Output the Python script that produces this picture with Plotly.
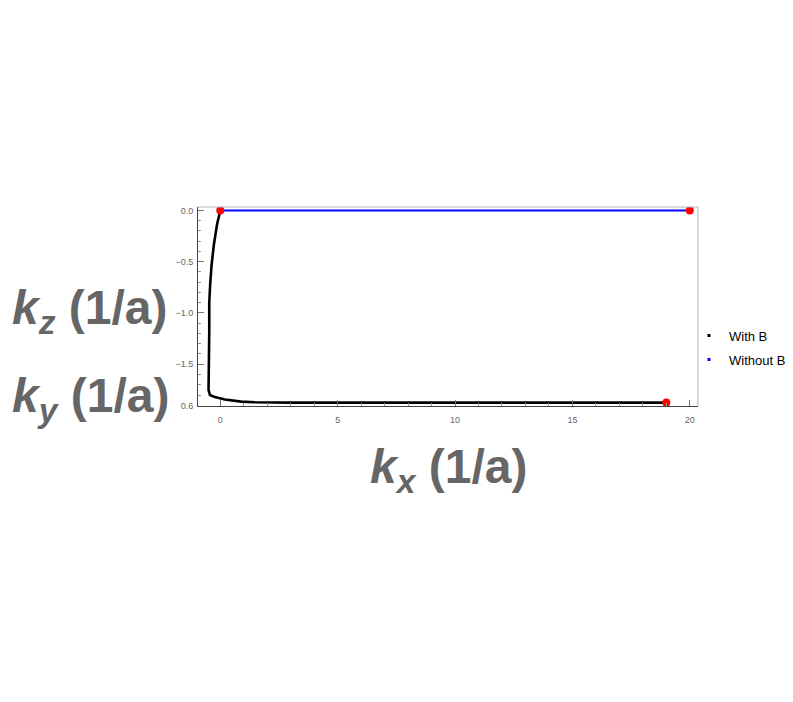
import plotly.graph_objects as go

# ---- data ----
with_b_kx = [0, -0.14, -0.27, -0.37, -0.43, -0.47, -0.47, -0.50, -0.50, -0.44, -0.23,
             0.2, 0.48, 0.77, 0.89, 1.48, 3, 6, 10, 15, 19]
with_b_kz = [0, -0.14, -0.33, -0.53, -0.72, -0.90, -1.19, -1.52, -1.75, -1.80, -1.82,
             -1.844, -1.855, -1.86, -1.864, -1.87, -1.874, -1.874, -1.874, -1.874, -1.874]
without_b_kx = [0, 20]
without_b_kz = [0, 0]
end_kx = [0, 20, 19]
end_kz = [0, 0, -1.874]

y_tickvals = [0, -0.5, -1.0, -1.5, -1.905]
y_ticktext = ["0.0", "\u22120.5", "\u22121.0", "\u22121.5", "0.6"]
x_tickvals = [0, 5, 10, 15, 20]
x_ticktext = ["0", "5", "10", "15", "20"]

FONT = "Liberation Sans, Arial, sans-serif"
GREY = "#666666"

fig = go.Figure()
fig.add_trace(go.Scatter(x=with_b_kx, y=with_b_kz, mode="lines",
                         line=dict(color="black", width=2.6), showlegend=False, hoverinfo="skip"))
fig.add_trace(go.Scatter(x=without_b_kx, y=without_b_kz, mode="lines",
                         line=dict(color="#0000ff", width=2), showlegend=False, hoverinfo="skip"))
fig.add_trace(go.Scatter(x=end_kx, y=end_kz, mode="markers",
                         marker=dict(color="#ff0000", size=8), showlegend=False))
# legend entries
fig.add_trace(go.Scatter(x=[None], y=[None], mode="markers", name="With B", legendgroup="a",
                         marker=dict(color="black", size=3, symbol="square")))
fig.add_trace(go.Scatter(x=[None], y=[None], mode="markers", name="Without B", legendgroup="b",
                         marker=dict(color="#0000ff", size=3, symbol="square")))

axis_common = dict(
    ticks="inside", ticklen=6, tickcolor="#777777", tickwidth=1,
    showgrid=False, zeroline=False, showline=True, linecolor="#444444", linewidth=1,
    tickfont=dict(family=FONT, size=9, color="#666666"),
)
fig.update_xaxes(range=[-0.949, 20.35], tickvals=x_tickvals, ticktext=x_ticktext,
                 ticklabelstandoff=5,
                 minor=dict(tickmode="linear", tick0=0, dtick=1, ticks="inside", ticklen=3,
                            tickcolor="#999999"),
                 **axis_common)
fig.update_yaxes(range=[-1.907, 0.033], tickvals=y_tickvals, ticktext=y_ticktext,
                 ticklabelstandoff=2,
                 minor=dict(tickmode="linear", tick0=0, dtick=0.1, ticks="inside", ticklen=3,
                            tickcolor="#999999"),
                 **axis_common)

# light frame on top and right
fig.add_shape(type="line", xref="paper", yref="paper", x0=0, x1=1, y0=1, y1=1,
              line=dict(color="#b5b5b5", width=1))
fig.add_shape(type="line", xref="paper", yref="paper", x0=1, x1=1, y0=0, y1=1,
              line=dict(color="#b5b5b5", width=1))

title_font = dict(family=FONT, size=48, color=GREY)
fig.add_annotation(text="<b><i>k</i></b><sub><b><i>z</i></b></sub><b> (1/a)</b>",
                   xref="paper", yref="paper", x=-0.376, y=0.477, xanchor="left",
                   yanchor="middle", showarrow=False, font=title_font)
fig.add_annotation(text="<b><i>k</i></b><sub><b><i>y</i></b></sub><b> (1/a)</b>",
                   xref="paper", yref="paper", x=-0.376, y=0.035, xanchor="left",
                   yanchor="middle", showarrow=False, font=title_font)
fig.add_annotation(text="<b><i>k</i></b><sub><b><i>x</i></b></sub><b> (1/a)</b>",
                   xref="paper", yref="paper", x=0.501, y=-0.324, xanchor="center",
                   yanchor="middle", showarrow=False, font=title_font)

fig.update_layout(
    width=793, height=702,
    margin=dict(l=190, r=103, t=199, b=304, autoexpand=False),
    paper_bgcolor="white", plot_bgcolor="white",
    showlegend=True,
    legend=dict(x=0.982, xanchor="left", y=0.429, yanchor="top",
                font=dict(family=FONT, size=13, color="black"),
                bgcolor="rgba(0,0,0,0)", itemwidth=30, tracegroupgap=4),
)

fig.write_html("out.html")
